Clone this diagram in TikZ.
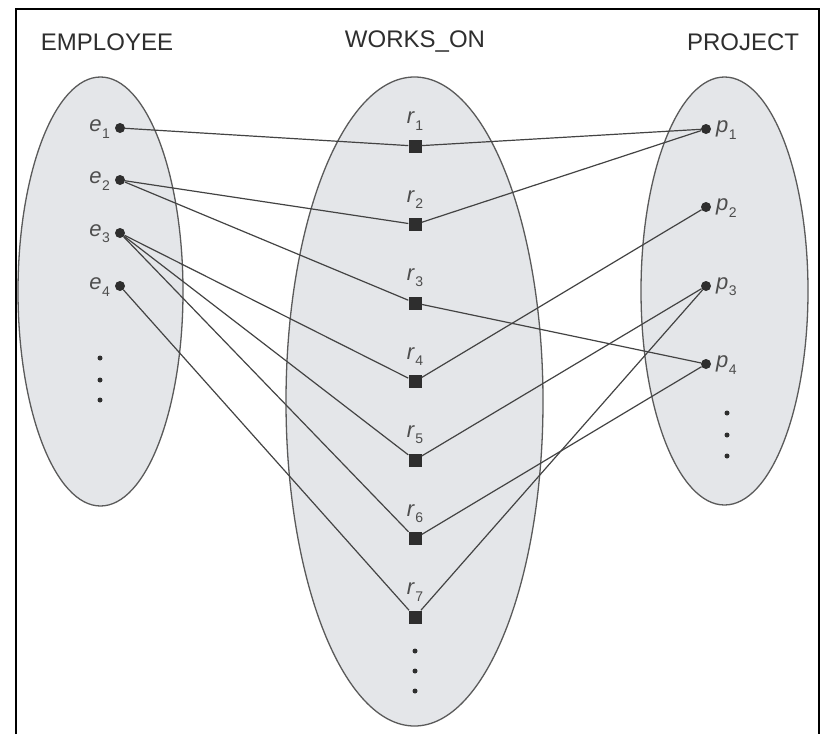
\documentclass[tikz,border=0pt]{standalone}
\usepackage{fontspec}
\setmainfont{Liberation Sans}
\usetikzlibrary{shapes.geometric}
\definecolor{setfill}{HTML}{E4E6E9}
\definecolor{setline}{HTML}{5A5A5A}
\definecolor{ink}{HTML}{2E2E2E}
\newcommand{\lab}[2]{\textit{#1}\kern0.5pt\raisebox{-0.28em}{\fontsize{14}{14}\selectfont #2}}
\begin{document}
\begin{tikzpicture}[x=1pt,y=-1pt,
  setbox/.style={ellipse,draw=setline,fill=setfill,line width=1.3pt,inner sep=0pt},
  dotnode/.style={circle,fill=ink,inner sep=0pt,minimum size=10pt},
  sqnode/.style={rectangle,fill=ink,inner sep=0pt,minimum size=13pt},
  small/.style={circle,fill=ink,inner sep=0pt,minimum size=5pt},
  link/.style={draw=ink!90!white,line width=1.2pt},
  title/.style={font=\fontsize{24}{24}\selectfont,text=ink},
  lbl/.style={font=\fontsize{22}{22}\selectfont,text=ink!85!white,inner sep=0pt}]
\useasboundingbox (0,0) rectangle (830,734);
\draw[line width=2pt] (16,734) -- (16,9) -- (819,9) -- (819,734);
% titles
\node[title] (tE) at (107,42) {EMPLOYEE};
\node[title] (tW) at (415,42) {WORKS\_ON};
\node[title] (tP) at (743,42) {PROJECT};
% sets
\node[setbox,minimum width=165pt,minimum height=429pt] (E) at (100.5,291.5) {};
\node[setbox,minimum width=257pt,minimum height=649pt] (W) at (414.5,401.5) {};
\node[setbox,minimum width=167pt,minimum height=428pt] (P) at (724.5,291) {};
% employees
\foreach \i/\y in {1/128,2/180,3/233,4/286}{
  \node[dotnode] (e\i) at (120,\y) {};
  \node[lbl,anchor=east] (le\i) at (110,\y+1) {\lab{e}{\i}};
}
% projects
\foreach \i/\y in {1/129,2/207,3/286,4/364}{
  \node[dotnode] (p\i) at (706,\y) {};
  \node[lbl,anchor=west] (lp\i) at (716,\y+1) {\lab{p}{\i}};
}
% relationship instances
\foreach \i in {1,...,7}{
  \pgfmathsetmacro{\yy}{146+78.5*(\i-1)}
  \node[sqnode] (r\i) at (415,\yy) {};
  \node[lbl] (lr\i) at (415,\yy-25) {\lab{r}{\i}};
}
% links
\draw[link] (e1) -- (r1) -- (p1);
\draw[link] (e2) -- (r2) -- (p1);
\draw[link] (e2) -- (r3) -- (p4);
\draw[link] (e3) -- (r4) -- (p2);
\draw[link] (e3) -- (r5) -- (p3);
\draw[link] (e3) -- (r6) -- (p4);
\draw[link] (e4) -- (r7) -- (p3);
% ellipsis dots
\foreach \y [count=\k] in {358,380,400}{\node[small] (de\k) at (100,\y) {};}
\foreach \y [count=\k] in {413,435,456}{\node[small] (dp\k) at (727,\y) {};}
\foreach \y [count=\k] in {651,671,691}{\node[small] (dr\k) at (415,\y) {};}
\end{tikzpicture}
\end{document}
